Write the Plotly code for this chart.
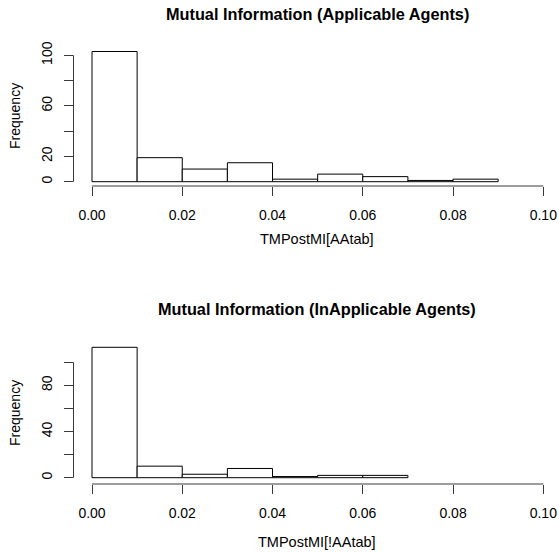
import plotly.graph_objects as go

# ---- data ----
bin_starts = [0.00, 0.01, 0.02, 0.03, 0.04, 0.05, 0.06, 0.07, 0.08]
bin_width = 0.01
top_counts = [103, 19, 10, 15, 2, 6, 4, 1, 2]
bottom_counts = [113, 10, 3, 8, 1, 2, 2]
top_title = "Mutual Information (Applicable Agents)"
bottom_title = "Mutual Information (InApplicable Agents)"
top_xlabel = "TMPostMI[AAtab]"
bottom_xlabel = "TMPostMI[!AAtab]"
ylabel = "Frequency"
x_tickvals = [0.00, 0.02, 0.04, 0.06, 0.08, 0.10]
x_ticktext = ["0.00", "0.02", "0.04", "0.06", "0.08", "0.10"]
top_ytickvals = [0, 20, 40, 60, 80, 100]
top_yticktext = ["0", "20", "", "60", "", "100"]
bottom_ytickvals = [0, 20, 40, 60, 80, 100]
bottom_yticktext = ["0", "", "40", "", "80", ""]

W, H = 559, 552
FONT = "Liberation Sans, Arial, Helvetica, sans-serif"
AX = "#3a3a3a"

def px(p):  # window pixel x -> paper fraction
    return p / W

def py(p):  # window pixel y (from top) -> paper fraction
    return 1 - p / H

fig = go.Figure()

centers_top = [s + bin_width / 2 for s in bin_starts[:len(top_counts)]]
centers_bot = [s + bin_width / 2 for s in bin_starts[:len(bottom_counts)]]

bar_style = dict(marker=dict(color="white", line=dict(color="black", width=1)),
                 width=bin_width, showlegend=False, hoverinfo="x+y")
fig.add_trace(go.Bar(x=centers_top, y=top_counts, xaxis="x", yaxis="y", **bar_style))
fig.add_trace(go.Bar(x=centers_bot, y=bottom_counts, xaxis="x2", yaxis="y2", **bar_style))

# x: 0 at px 92, 0.10 at 543.3
px_per_unit = (543.3 - 92) / 0.10
left_px = 73.5
xr = [(left_px - 92) / px_per_unit, (W - 92) / px_per_unit]
xdom = [px(left_px), 1]

# top panel: 0 at 181.7, 100 at 55.3; region 46..186
t_ppu = (181.7 - 55.3) / 100
t_bot, t_top = 186, 46
yr1 = [-(t_bot - 181.7) / t_ppu, (181.7 - t_top) / t_ppu]
# bottom panel: 0 at 477.7, 100 at 362.3; region 342..484
b_ppu = (477.7 - 362.3) / 100
b_bot, b_top = 484, 342
yr2 = [-(b_bot - 477.7) / b_ppu, (477.7 - b_top) / b_ppu]

xaxis_common = dict(range=xr, domain=xdom, showgrid=False, zeroline=False, showline=False,
                    ticks="outside", ticklen=9, tickwidth=1, tickcolor=AX,
                    tickvals=x_tickvals, ticktext=x_ticktext,
                    tickfont=dict(family=FONT, size=14, color="black"),
                    ticklabelstandoff=7, fixedrange=True, automargin=False)
yaxis_common = dict(showgrid=False, zeroline=False, showline=False,
                    ticks="outside", ticklen=9, tickwidth=1, tickcolor=AX,
                    tickangle=-90,
                    tickfont=dict(family=FONT, size=14, color="black"),
                    ticklabelstandoff=6, fixedrange=True, automargin=False)

fig.update_layout(
    width=W, height=H,
    margin=dict(l=0, r=0, t=0, b=0, pad=0, autoexpand=False),
    paper_bgcolor="white", plot_bgcolor="white",
    bargap=0,
    xaxis=dict(anchor="y", **xaxis_common),
    yaxis=dict(anchor="x", range=yr1, domain=[py(t_bot), py(t_top)],
               tickvals=top_ytickvals, ticktext=top_yticktext, **yaxis_common),
    xaxis2=dict(anchor="y2", **xaxis_common),
    yaxis2=dict(anchor="x2", range=yr2, domain=[py(b_bot), py(b_top)],
                tickvals=bottom_ytickvals, ticktext=bottom_yticktext, **yaxis_common),
)

# R-style axis lines spanning first to last tick
for xa, ya, ytv in (("x", "y", top_ytickvals), ("x2", "y2", bottom_ytickvals)):
    fig.add_shape(type="line", xref=xa, yref=f"{ya} domain",
                  x0=x_tickvals[0], x1=x_tickvals[-1], y0=0, y1=0,
                  line=dict(color=AX, width=1))
    fig.add_shape(type="line", xref=f"{xa} domain", yref=ya,
                  x0=0, x1=0, y0=ytv[0], y1=ytv[-1],
                  line=dict(color=AX, width=1))

def ann(text, x_px, y_px, size, bold=False, angle=0):
    fig.add_annotation(text=f"<b>{text}</b>" if bold else text,
                       x=px(x_px), y=py(y_px), xref="paper", yref="paper",
                       xanchor="center", yanchor="middle", showarrow=False,
                       textangle=angle,
                       font=dict(family=FONT, size=size, color="black"))

cx = (left_px + 561.3) / 2
ann(top_title, cx, 14, 16.3, bold=True)
ann(bottom_title, cx, 309, 16.3, bold=True)
ann(top_xlabel, cx, 239, 14.5)
ann(bottom_xlabel, cx, 542, 14.5)
ann(ylabel, 15, (t_bot + t_top) / 2, 14, angle=-90)
ann(ylabel, 15, (b_bot + b_top) / 2, 14, angle=-90)

fig.write_html(
    "out.html",
    config={"displayModeBar": False, "staticPlot": True},
    post_script="document.body.style.margin='0';"
                "document.documentElement.style.overflow='hidden';"
                "document.body.style.overflow='hidden';",
)
